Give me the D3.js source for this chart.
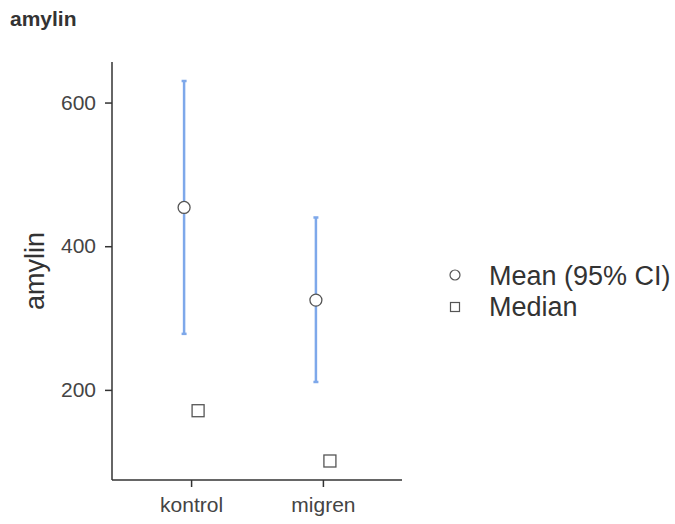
<!DOCTYPE html>
<html>
<head>
<meta charset="utf-8">
<script src="https://cdn.jsdelivr.net/npm/d3@7"></script>
<style>
  body { margin: 0; background: #fff; }
  text { font-family: "Liberation Sans", Arial, sans-serif; }
</style>
</head>
<body>
<script>
const groups = ["kontrol", "migren"];
const means = [454, 325];
const ciLower = [278, 211];
const ciUpper = [630, 440];
const medians = [171, 101];
const yTicks = [200, 400, 600];

const W = 675, H = 524;
const margin = { top: 62, right: 273, bottom: 44, left: 112 };

const svg = d3.select("body").append("svg")
    .attr("width", W)
    .attr("height", H);

svg.append("text")
  .attr("x", 10)
  .attr("y", 26)
  .style("font-size", "21px")
  .style("font-weight", "bold")
  .attr("fill", "#333")
  .text("amylin");

const x = d3.scalePoint()
  .domain(groups)
  .range([margin.left, W - margin.right])
  .padding(0.6);

// ggplot-style 5% expansion of the data range
const lo = d3.min(medians.concat(ciLower)), hi = d3.max(medians.concat(ciUpper));
const pad = (hi - lo) * 0.05;
const y = d3.scaleLinear()
  .domain([lo - pad, hi + pad])
  .range([H - margin.bottom, margin.top]);

const dodge = 7;

// axes
const yAxis = svg.append("g")
  .attr("transform", `translate(${margin.left},0)`)
  .call(d3.axisLeft(y).tickValues(yTicks).tickSize(7).tickPadding(9).tickSizeOuter(0));
const xAxis = svg.append("g")
  .attr("transform", `translate(0,${H - margin.bottom})`)
  .call(d3.axisBottom(x).tickSize(7).tickPadding(10).tickSizeOuter(0));

[yAxis, xAxis].forEach(a => {
  a.select(".domain").attr("stroke", "#333").attr("stroke-width", 1.5);
  a.selectAll(".tick line").attr("stroke", "#333").attr("stroke-width", 1.5);
  a.selectAll(".tick text").attr("fill", "#444").style("font-size", "21px");
});
// extend axis lines to full plot panel
yAxis.select(".domain").attr("d", `M0,${margin.top}V${H - margin.bottom}`);
xAxis.select(".domain").attr("d", `M${margin.left},0H${W - margin.right}`);

svg.append("text")
  .attr("transform", `translate(44,${(margin.top + H - margin.bottom) / 2}) rotate(-90)`)
  .attr("text-anchor", "middle")
  .style("font-size", "27px")
  .attr("fill", "#333")
  .text("amylin");

// CI error bars
const blue = "#7ea8ea";
const ci = svg.append("g");
groups.forEach((g, i) => {
  const cx = x(g) - dodge;
  ci.append("line")
    .attr("x1", cx).attr("x2", cx)
    .attr("y1", y(ciLower[i])).attr("y2", y(ciUpper[i]))
    .attr("stroke", blue).attr("stroke-width", 2.5);
  [ciLower[i], ciUpper[i]].forEach(v => {
    ci.append("line")
      .attr("x1", cx - 2.5).attr("x2", cx + 2.5)
      .attr("y1", y(v)).attr("y2", y(v))
      .attr("stroke", blue).attr("stroke-width", 2.5);
  });
});

svg.selectAll(".mean")
  .data(groups)
  .join("circle")
    .attr("class", "mean")
    .attr("cx", d => x(d) - dodge)
    .attr("cy", (d, i) => y(means[i]))
    .attr("r", 6)
    .attr("fill", "#fff")
    .attr("stroke", "#555")
    .attr("stroke-width", 1.3);

svg.selectAll(".median")
  .data(groups)
  .join("rect")
    .attr("class", "median")
    .attr("x", d => x(d) + dodge - 6)
    .attr("y", (d, i) => y(medians[i]) - 6)
    .attr("width", 12)
    .attr("height", 12)
    .attr("fill", "#fff")
    .attr("stroke", "#555")
    .attr("stroke-width", 1.3);

// legend
const legend = svg.append("g").attr("transform", "translate(455,275)");
legend.append("circle")
  .attr("cx", 0).attr("cy", 0).attr("r", 5)
  .attr("fill", "#fff").attr("stroke", "#555").attr("stroke-width", 1.2);
legend.append("rect")
  .attr("x", -4.5).attr("y", 27.5).attr("width", 9).attr("height", 9)
  .attr("fill", "#fff").attr("stroke", "#555").attr("stroke-width", 1.2);
legend.append("text")
  .attr("x", 34).attr("y", 10)
  .style("font-size", "27px").attr("fill", "#333")
  .text("Mean (95% CI)");
legend.append("text")
  .attr("x", 34).attr("y", 41)
  .style("font-size", "27px").attr("fill", "#333")
  .text("Median");
</script>
</body>
</html>
